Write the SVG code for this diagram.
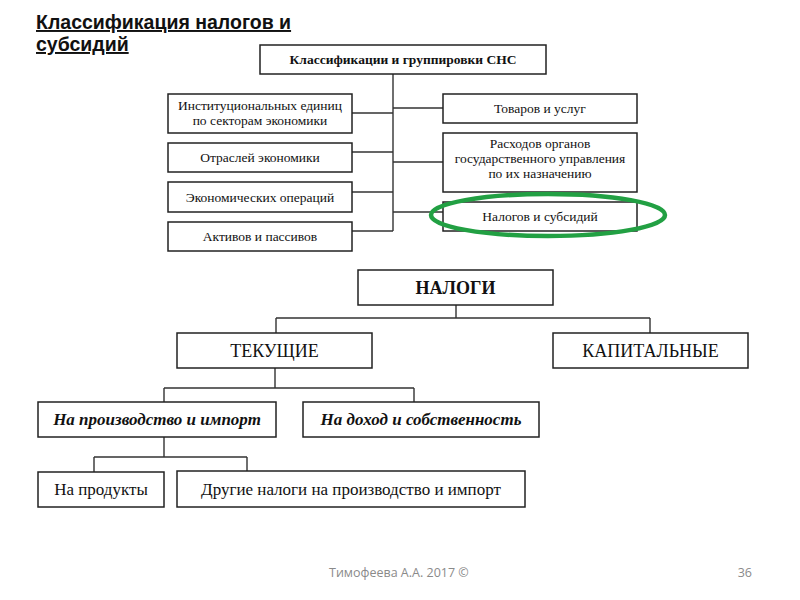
<svg xmlns="http://www.w3.org/2000/svg" width="800" height="600" viewBox="0 0 800 600">
<style>
.box{fill:#fff;stroke:#222;stroke-width:1.5}
.ln{fill:none;stroke:#333;stroke-width:1.4}
.t{font-family:"Liberation Serif","Times New Roman",serif;fill:#111;text-anchor:middle}
.s13{font-size:13.5px}
.b{font-weight:bold}
.big{font-size:18px}
.mid{font-size:17px}
.it{font-style:italic;font-weight:bold}
.ft{font-family:"Open Sans","Liberation Sans",sans-serif;font-size:12.5px;fill:#8a8a8a}
</style>
<rect width="800" height="600" fill="#fff"/>
<g id="title">
<text x="36" y="29" font-family="Liberation Sans, Arial, sans-serif" font-size="19.5" font-weight="bold" text-decoration="underline" fill="#111">Классификация налогов и</text>
<text x="36" y="51" font-family="Liberation Sans, Arial, sans-serif" font-size="19.5" font-weight="bold" text-decoration="underline" fill="#111">субсидий</text>
</g>
<g id="connectors">
<path class="ln" d="M393 74V231M352 113H393M352 152H393M352 192H393M352 231H393M393 108H443M393 162H443M393 212H443"/>
<path class="ln" d="M456 305V318M276 318H650M276 318V333M650 318V333"/>
<path class="ln" d="M275 368V388M164 388H414M164 388V402M414 388V402"/>
<path class="ln" d="M164 437V457M94 457H247M94 457V472M247 457V471"/>
</g>
<g id="n_sns"><rect class="box" x="260" y="45" width="286" height="29"/><text class="t s13 b" x="403" y="64">Классификации и группировки СНС</text></g>
<g id="n_inst"><rect class="box" x="168" y="94" width="184" height="39"/><text class="t s13" x="260" y="109.5">Институциональных единиц</text><text class="t s13" x="260" y="125">по секторам экономики</text></g>
<g id="n_otr"><rect class="box" x="168" y="143" width="184" height="29"/><text class="t s13" x="260" y="162">Отраслей экономики</text></g>
<g id="n_econ"><rect class="box" x="168" y="182" width="184" height="30"/><text class="t s13" x="260" y="201.5">Экономических операций</text></g>
<g id="n_akt"><rect class="box" x="168" y="222" width="184" height="29"/><text class="t s13" x="260" y="241">Активов и пассивов</text></g>
<g id="n_tov"><rect class="box" x="443" y="94" width="194" height="29"/><text class="t s13" x="540" y="113">Товаров и услуг</text></g>
<g id="n_rash"><rect class="box" x="443" y="133" width="194" height="59"/><text class="t s13" x="540" y="147.5">Расходов органов</text><text class="t s13" x="540" y="162.5">государственного управления</text><text class="t s13" x="540" y="177.5">по их назначению</text></g>
<g id="n_nal_sub"><rect class="box" x="443" y="202" width="194" height="29"/><text class="t s13" x="540" y="221">Налогов и субсидий</text></g>
<g id="highlight"><ellipse cx="548" cy="215" rx="117" ry="21" fill="none" stroke="#22a043" stroke-width="4.5"/></g>
<g id="n_nalogi"><rect class="box" x="358" y="270" width="195" height="35"/><text class="t big b" x="455.5" y="294">НАЛОГИ</text></g>
<g id="n_tek"><rect class="box" x="177" y="333" width="195" height="35"/><text class="t big" x="274.5" y="357">ТЕКУЩИЕ</text></g>
<g id="n_kap"><rect class="box" x="553" y="333" width="195" height="35"/><text class="t big" x="650.5" y="357">КАПИТАЛЬНЫЕ</text></g>
<g id="n_proizv"><rect class="box" x="38" y="402" width="238" height="35"/><text class="t mid it" x="157" y="425">На производство и импорт</text></g>
<g id="n_dohod"><rect class="box" x="303" y="402" width="236" height="35"/><text class="t mid it" x="421" y="425">На доход и собственность</text></g>
<g id="n_prod"><rect class="box" x="38" y="472" width="126" height="35"/><text class="t mid" x="101" y="495">На продукты</text></g>
<g id="n_drugie"><rect class="box" x="177" y="471" width="348" height="36"/><text class="t mid" x="351" y="495">Другие налоги на производство и импорт</text></g>
<g id="footer">
<text class="ft" x="329" y="577">Тимофеева А.А. 2017 ©</text>
<text class="ft" x="752" y="577" text-anchor="end">36</text>
</g>
</svg>
